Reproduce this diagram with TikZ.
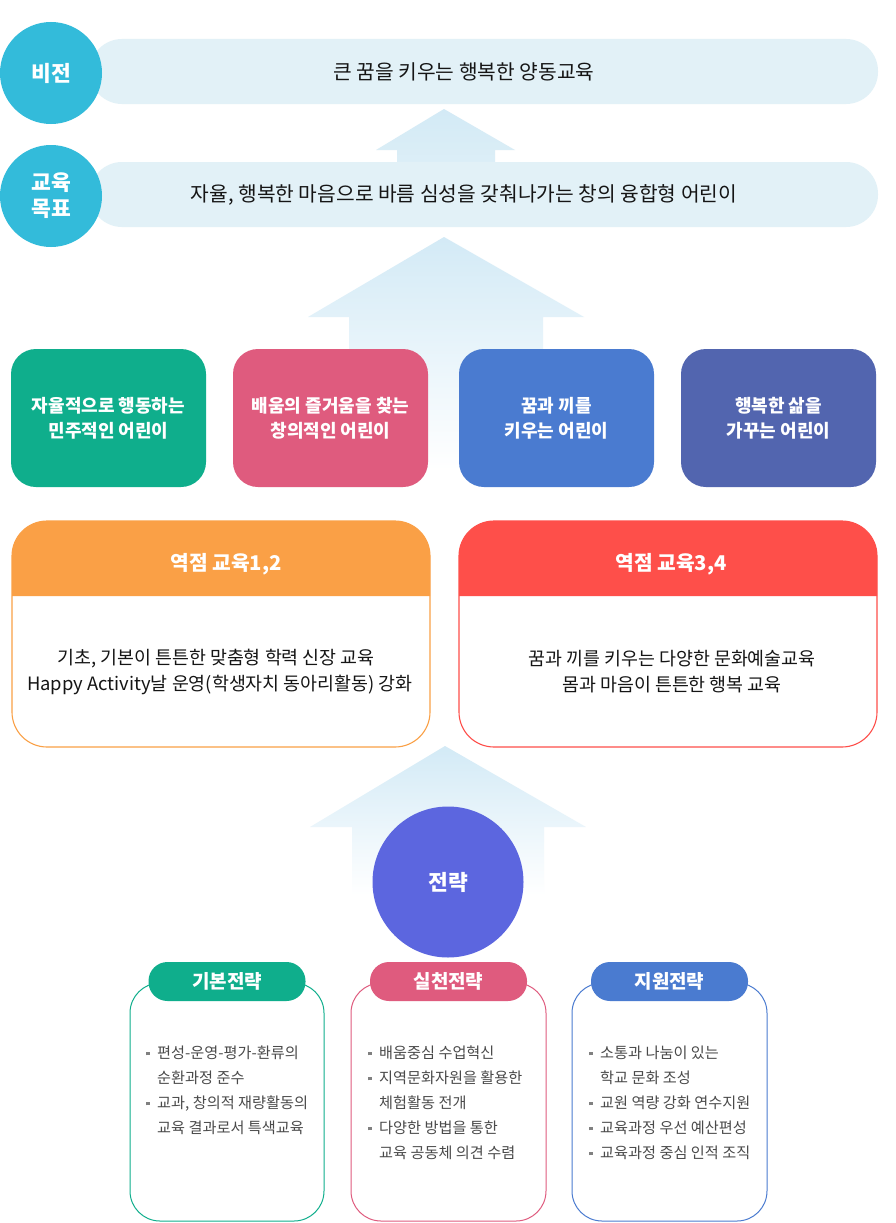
\documentclass[tikz,border=0pt]{standalone}
\usepackage{fontspec}
\setmainfont{Noto Sans CJK KR}
\definecolor{cyanc}{HTML}{33BBDA}
\definecolor{barc}{HTML}{E2F1F7}
\definecolor{arrc}{HTML}{D3EAF6}
\definecolor{greenc}{HTML}{0FAE8C}
\definecolor{pinkc}{HTML}{DF5B7E}
\definecolor{bluec}{HTML}{4A7BD0}
\definecolor{indigoc}{HTML}{5265AF}
\definecolor{orangec}{HTML}{FAA046}
\definecolor{redc}{HTML}{FE4F4A}
\definecolor{stratc}{HTML}{5C66DF}
\definecolor{txtc}{HTML}{151515}
\definecolor{graytxt}{HTML}{4A4A4A}
\definecolor{bulc}{HTML}{808080}
\newcommand\sqb{\makebox[11pt][l]{\textcolor{bulc}{\rule[3.5pt]{3.5pt}{3.5pt}}}}
\newcommand\ind{\hspace*{11pt}}
\begin{document}
\begin{tikzpicture}[x=1pt,y=-1pt,
  circ/.style={circle, fill=cyanc, text=white, font=\bfseries\fontsize{21.5}{26}\selectfont, minimum size=102pt, inner sep=0pt, align=center},
  bar/.style={fill=barc, rounded corners=32pt, minimum width=788pt, minimum height=65pt, inner sep=0pt},
  bartext/.style={text=txtc, font=\fontsize{20.3}{24}\selectfont, inner sep=0pt},
  kid/.style={rounded corners=25pt, minimum width=195pt, minimum height=138pt, text=white, font=\bfseries\fontsize{18}{25}\selectfont, align=center, inner sep=0pt},
  head/.style={text=white, font=\bfseries\fontsize{20.3}{24}\selectfont, inner sep=0pt},
  body/.style={text=txtc, font=\fontsize{18.4}{22}\selectfont, inner sep=0pt},
  pill/.style={rounded corners=19pt, minimum width=157pt, minimum height=39pt, text=white, font=\bfseries\fontsize{19}{22}\selectfont, inner sep=0pt},
  sbox/.style={line width=1pt, rounded corners=30pt},
  blist/.style={anchor=north west, inner sep=0pt, align=left, text=graytxt, font=\fontsize{15.2}{25}\selectfont},
  upar/.style={top color=arrc, bottom color=white}
]
\useasboundingbox (0,0) rectangle (895,1223);
\fill[white] (0,0) rectangle (895,1223);

% arrows
\shade[top color=arrc, bottom color=barc!60!arrc] (444,109) -- (515,150) -- (495,150) -- (495,164) -- (397,164) -- (397,150) -- (376,150) -- cycle;
\shade[upar] (444,237) -- (584,317) -- (543,317) -- (543,470) -- (349,470) -- (349,317) -- (308,317) -- cycle;
\shade[upar] (445,746) -- (586,827) -- (544,827) -- (544,895) -- (352,895) -- (352,827) -- (310,827) -- cycle;

% vision / goal bars
\node[bar] (vbar) at (484,71.5) {};
\node[bartext] (vtext) at (464,72) {큰 꿈을 키우는 행복한 양동교육};
\node[circ] (vision) at (51,73) {비전};
\node[bar] (gbar) at (484,194.5) {};
\node[bartext] (gtext) at (464,195) {자율, 행복한 마음으로 바름 심성을 갖춰나가는 창의 융합형 어린이};
\node[circ] (goal) at (51,196) {교육\\목표};

% four kids
\node[kid, fill=greenc] (k1) at (108.5,418) {자율적으로 행동하는\\민주적인 어린이};
\node[kid, fill=pinkc] (k2) at (330.5,418) {배움의 즐거움을 찾는\\창의적인 어린이};
\node[kid, fill=bluec] (k3) at (556.5,418) {꿈과 끼를\\키우는 어린이};
\node[kid, fill=indigoc] (k4) at (778.5,418) {행복한 삶을\\가꾸는 어린이};

% focus boxes
\fill[white] (12,521) rectangle (430,700);
\fill[orangec] (12,596) [rounded corners=35pt] -- (12,521) -- (430,521) [sharp corners] -- (430,596) -- cycle;
\draw[orangec, line width=1.1pt, rounded corners=35pt] (12,521) rectangle (430,747);
\node[head] (h1) at (226,564) {역점 교육1,2};
\node[body] (b1a) at (216,659) {기초, 기본이 튼튼한 맞춤형 학력 신장 교육};
\node[body] (b1b) at (220,685) {Happy Activity날 운영(학생자치 동아리활동) 강화};

\fill[redc] (459,596) [rounded corners=35pt] -- (459,521) -- (877,521) [sharp corners] -- (877,596) -- cycle;
\draw[redc, line width=1.1pt, rounded corners=35pt] (459,521) rectangle (877,747);
\node[head] (h2) at (671,564) {역점 교육3,4};
\node[body] (b2a) at (672,659) {꿈과 끼를 키우는 다양한 문화예술교육};
\node[body] (b2b) at (672,685) {몸과 마음이 튼튼한 행복 교육};

% strategy circle
\node[circle, fill=stratc, minimum size=151pt, inner sep=0pt, text=white, font=\bfseries\fontsize{21.5}{24}\selectfont] (strat) at (448,882) {전략};

% strategy boxes
\draw[sbox, greenc] (130,983) rectangle (324,1221);
\draw[sbox, pinkc] (351,983) rectangle (546,1221);
\draw[sbox, bluec] (572,983) rectangle (767,1221);
\node[pill, fill=greenc] (s1) at (227,981.5) {기본전략};
\node[pill, fill=pinkc] (s2) at (448.5,981.5) {실천전략};
\node[pill, fill=bluec] (s3) at (669.5,981.5) {지원전략};

\node[blist] (l1) at (146,1046) {\sqb 편성-운영-평가-환류의\\ \ind 순환과정 준수\\ \sqb 교과, 창의적 재량활동의\\ \ind 교육 결과로서 특색교육};
\node[blist] (l2) at (368,1046) {\sqb 배움중심 수업혁신\\ \sqb 지역문화자원을 활용한\\ \ind 체험활동 전개\\ \sqb 다양한 방법을 통한\\ \ind 교육 공동체 의견 수렴};
\node[blist] (l3) at (589,1046) {\sqb 소통과 나눔이 있는\\ \ind 학교 문화 조성\\ \sqb 교원 역량 강화 연수지원\\ \sqb 교육과정 우선 예산편성\\ \sqb 교육과정 중심 인적 조직};
\end{tikzpicture}
\end{document}
